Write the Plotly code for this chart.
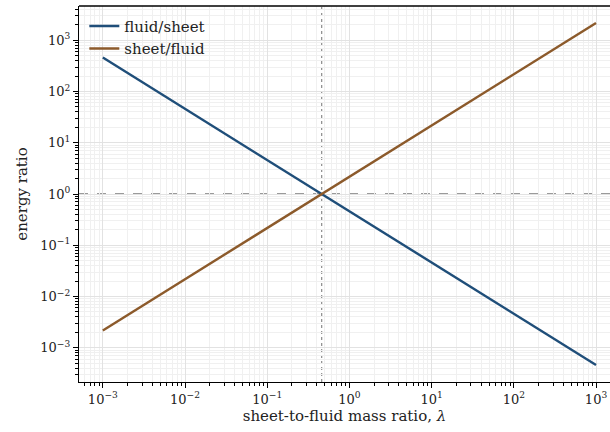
import plotly.graph_objects as go

lam = [1e-3, 1e-2, 1e-1, 1e0, 1e1, 1e2, 1e3]
fluid_sheet = [460, 46, 4.6, 0.46, 0.046, 0.0046, 0.00046]
sheet_fluid = [0.00217, 0.0217, 0.217, 2.17, 21.7, 217, 2170]
lam_cross = 0.46
ref_level = 1.0

x_exps = [-3, -2, -1, 0, 1, 2, 3]
y_exps = [-3, -2, -1, 0, 1, 2, 3]

blue = "#1f4e79"
brown = "#8c5a2b"
font = "DejaVu Serif"


def fmt(e):
    s = str(e).replace("-", "\u2212")
    return "10<sup>" + s + "</sup>"


def minor_vals(lo, hi):
    out = []
    for e in range(lo, hi + 1):
        for m in range(2, 10):
            out.append(m * 10.0 ** e)
    return out


fig = go.Figure()
fig.add_trace(go.Scatter(x=lam, y=fluid_sheet, mode="lines", name="fluid/sheet",
                         line=dict(color=blue, width=2.4)))
fig.add_trace(go.Scatter(x=lam, y=sheet_fluid, mode="lines", name="sheet/fluid",
                         line=dict(color=brown, width=2.4)))

fig.add_shape(type="line", xref="x", yref="paper", x0=lam_cross, x1=lam_cross, y0=0, y1=1,
              line=dict(color="#808080", width=1.1, dash="dot"), layer="below")
fig.add_shape(type="line", xref="x domain", yref="y", x0=0, x1=1, y0=ref_level, y1=ref_level,
              line=dict(color="#7a7a7a", width=1.3, dash="dash"), layer="below")
fig.add_shape(type="line", xref="x domain", yref="y domain", x0=0, x1=1, y0=1, y1=1,
              line=dict(color="black", width=1.6), layer="above")


def axis_common(exps):
    return dict(
        type="log",
        showline=True, linecolor="black", linewidth=1.3,
        ticks="outside", ticklen=5, tickwidth=1, tickcolor="black",
        showgrid=True, gridcolor="#e2e2e2", gridwidth=1,
        zeroline=False,
        tickfont=dict(family=font, size=13, color="#222222"),
        tickmode="array",
        tickvals=[10.0 ** e for e in exps],
        ticktext=[fmt(e) for e in exps],
        minor=dict(tickmode="array", tickvals=minor_vals(exps[0] - 1, exps[-1]),
                   ticks="outside", ticklen=3, tickcolor="black", showgrid=True,
                   gridcolor="#f0f0f0", gridwidth=0.8),
    )


fig.update_xaxes(**axis_common(x_exps), range=[-3.29, 3.17],
                 title=dict(text="sheet-to-fluid mass ratio, <i>λ</i>",
                            font=dict(family=font, size=15, color="#222222"), standoff=2))
fig.update_yaxes(**axis_common(y_exps), range=[-3.67, 3.67],
                 title=dict(text="energy ratio",
                            font=dict(family=font, size=15, color="#222222"), standoff=9))

fig.update_layout(
    width=610, height=432,
    margin=dict(l=79, r=0, t=6, b=50),
    paper_bgcolor="white", plot_bgcolor="white",
    showlegend=True,
    legend=dict(x=0.01, y=0.99, xanchor="left", yanchor="top",
                bgcolor="rgba(255,255,255,0)", borderwidth=0,
                font=dict(family=font, size=15, color="#222222"),
                itemwidth=30, tracegroupgap=0),
)

fig.write_html("out.html", config={"displayModeBar": False},
               post_script="document.body.style.margin='0';document.body.style.overflow='hidden';")
